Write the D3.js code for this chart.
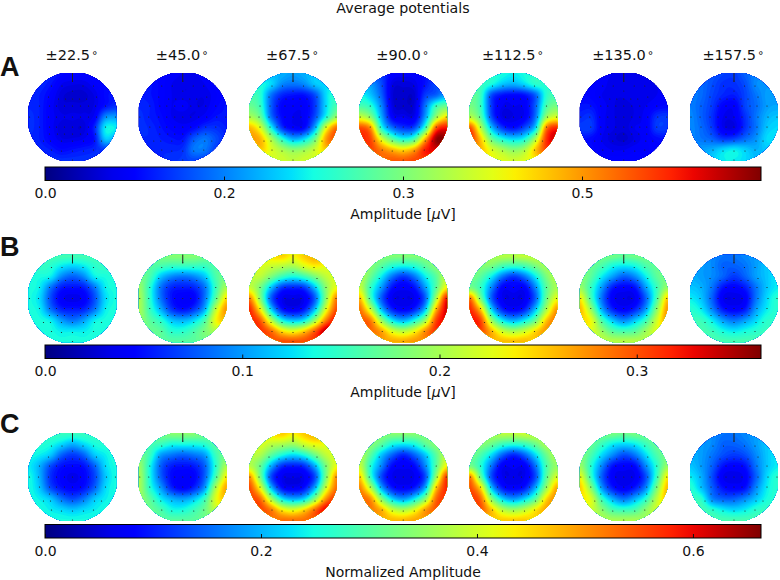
<!DOCTYPE html>
<html><head><meta charset="utf-8">
<script src="https://cdn.jsdelivr.net/npm/d3@7/dist/d3.min.js"></script>
<style>html,body{margin:0;padding:0;background:#fff}svg{display:block}text{font-family:"DejaVu Sans";fill:#111}</style>
</head><body><svg id="c" width="780" height="580"></svg>
<script>
const title = "Average potentials";
const angles = ["22.5","45.0","67.5","90.0","112.5","135.0","157.5"];
const panelLetters = ["A","B","C"];
const barMax = [0.6, 0.363, 0.663];
const tickValsA = [0, 0.15, 0.30, 0.45];
const tickValsB = [0, 0.1, 0.2, 0.3];
const tickValsC = [0, 0.2, 0.4, 0.6];
const tickTextA = ["0.0","0.2","0.3","0.5"];
const tickTextB = ["0.0","0.1","0.2","0.3"];
const tickTextC = ["0.0","0.2","0.4","0.6"];
const barLabels = ["Amplitude [","Amplitude [","Normalized Amplitude"];

// Scalp maps: 9x9 samples, top row first, left column first, in percent of the colour bar range.
const mapsA = [
[16,16,16,13,12,12,13,14,14, 16,16,14,10,9,9,11,13,14, 15,15,12,8,7,7,9,13,15, 16,15,11,8,8,8,9,14,17, 17,15,11,9,9,9,11,26,28, 17,15,11,8,8,8,16,36,36, 16,15,12,9,9,10,14,32,28, 16,16,15,13,14,15,16,18,20, 16,16,17,17,17,17,17,17,17],
[13,13,12,11,10,10,11,12,12, 14,14,12,10,9,9,10,12,12, 15,14,12,10,9,9,9,11,13, 16,15,12,10,11,9,9,12,14, 17,15,13,10,9,9,11,14,14, 17,16,14,12,11,13,17,17,15, 16,16,15,14,14,21,24,20,16, 15,15,16,16,17,24,24,18,15, 14,15,16,17,18,19,18,16,14],
[30,30,30,30,28,30,32,32,32, 38,38,34,26,24,26,32,34,36, 44,40,24,16,14,14,20,34,42, 48,42,22,12,11,11,18,34,44, 56,48,24,13,10,11,20,38,54, 72,62,38,18,12,13,30,62,80, 74,72,56,40,30,34,48,74,84, 66,70,62,56,52,54,60,70,74, 60,60,60,60,58,60,60,60,60],
[20,20,18,12,11,11,14,18,20, 32,28,20,9,8,9,14,20,24, 38,32,22,8,7,7,18,22,30, 44,40,26,9,7,8,24,42,48, 60,52,30,12,10,10,28,54,68, 84,76,40,24,18,20,42,82,90, 86,84,62,46,38,44,72,98,98, 82,84,78,72,68,74,88,92,92, 78,78,80,82,82,84,84,84,84],
[40,40,40,38,36,38,40,40,40, 44,42,38,32,30,34,40,40,42, 48,42,20,14,13,14,22,40,44, 50,42,18,10,10,11,22,44,50, 58,46,20,9,9,11,24,54,62, 84,58,32,18,14,20,34,78,88, 88,70,48,38,34,38,56,86,94, 80,72,62,56,52,56,70,84,86, 68,68,64,62,60,62,66,72,74],
[11,11,11,10,10,10,10,10,10, 12,12,11,9,9,9,9,10,11, 13,12,10,9,9,10,9,10,12, 14,14,11,9,8,9,10,12,13, 16,17,11,9,8,9,11,17,18, 18,18,11,9,8,10,11,18,18, 14,13,10,8,7,9,11,13,14, 13,13,11,10,10,11,11,12,12, 12,12,12,12,12,12,12,12,12],
[22,22,21,19,18,22,25,25,25, 24,23,20,17,17,20,26,27,27, 25,23,19,16,15,19,24,28,28, 25,22,18,12,11,19,23,28,29, 26,22,17,10,10,17,24,30,32, 26,23,18,10,9,17,24,32,34, 26,24,22,18,19,23,27,34,34, 26,28,30,34,36,33,30,32,30, 28,30,33,36,36,34,31,30,28]
];
const mapsB = [
[44,44,44,44,44,44,44,44,44, 42,42,40,36,34,36,40,42,42, 38,38,36,26,22,26,36,38,40, 38,36,24,15,14,15,24,36,38, 38,34,20,11,9,11,20,34,38, 38,36,24,16,15,16,24,36,38, 38,38,36,28,24,28,36,38,38, 40,38,38,36,36,36,38,38,40, 38,38,38,38,38,38,38,38,38],
[48,48,50,52,52,52,50,48,46, 48,46,44,42,42,42,42,46,48, 50,44,32,26,24,26,32,44,50, 54,40,24,16,15,16,24,42,56, 56,40,24,14,11,12,24,46,68, 56,42,30,18,14,18,30,58,76, 54,46,40,32,30,34,44,64,72, 50,48,46,40,40,44,50,56,60, 46,46,46,46,46,46,48,48,48],
[66,66,68,70,66,70,74,74,70, 62,62,60,58,56,62,66,64,62, 58,58,50,42,38,42,50,58,62, 60,50,32,18,16,18,32,52,64, 78,52,22,10,9,10,22,52,78, 88,66,34,15,11,15,32,62,84, 88,82,58,38,32,36,54,78,92, 84,86,80,68,64,70,82,96,96, 80,80,82,84,84,84,86,88,90],
[52,52,52,52,52,52,52,52,52, 56,52,46,40,38,40,46,52,56, 58,48,36,24,18,24,36,46,60, 60,42,28,14,11,14,28,46,66, 72,44,22,10,9,10,22,56,90, 80,60,32,16,12,16,32,72,94, 82,78,54,36,30,38,54,84,92, 78,80,74,62,58,64,76,86,86, 72,72,74,74,74,76,76,76,76],
[56,56,56,58,58,60,60,60,60, 54,52,50,44,42,44,50,56,58, 50,46,36,24,18,24,36,50,58, 50,42,26,12,12,12,26,46,56, 80,50,22,10,9,10,22,48,64, 88,70,34,16,12,16,32,56,76, 90,84,54,36,30,36,48,70,80, 86,84,72,60,56,60,68,76,78, 72,72,72,72,72,72,70,72,72],
[50,50,50,50,48,50,50,50,50, 50,48,44,38,36,38,44,48,50, 52,46,36,28,22,26,36,46,50, 54,42,28,15,12,14,28,42,54, 66,44,24,11,9,10,22,44,70, 72,54,30,16,12,16,28,52,76, 68,64,44,32,26,32,42,60,76, 62,62,54,46,44,46,54,62,66, 56,56,58,58,58,58,56,56,56],
[30,28,26,24,24,26,28,30,32, 30,28,26,22,22,24,28,32,34, 30,28,26,22,18,22,28,32,36, 32,30,24,14,12,15,24,32,36, 36,32,22,10,9,11,24,34,40, 40,36,26,15,12,15,28,36,40, 42,42,36,28,24,28,34,40,40, 44,44,42,38,36,38,40,42,42, 44,44,44,44,44,44,44,44,44]
];
const mapsC = [
[44,42,42,42,42,42,42,44,44, 42,40,38,34,30,34,38,40,42, 38,36,32,22,18,22,32,36,40, 36,30,20,14,13,14,22,34,38, 38,30,17,12,9,12,19,32,38, 38,32,20,14,12,14,22,34,38, 38,36,32,24,20,24,32,36,38, 40,38,36,34,32,34,36,38,40, 38,38,38,38,38,38,38,38,38],
[48,48,50,52,52,52,50,48,46, 48,44,42,38,38,38,40,46,48, 50,42,28,24,22,24,28,42,50, 54,38,22,15,14,15,22,40,56, 56,38,22,13,11,12,22,44,66, 56,40,28,16,12,16,28,56,74, 54,46,36,30,28,32,42,62,72, 50,48,44,38,38,42,48,58,62, 46,46,46,46,46,46,48,48,48],
[66,66,68,70,66,70,74,74,70, 62,62,58,56,54,60,64,64,62, 58,56,46,38,34,38,48,58,62, 58,48,30,17,15,17,30,50,64, 76,50,20,10,9,10,20,50,76, 84,64,32,14,11,14,30,60,80, 84,80,56,36,30,34,52,76,88, 82,84,78,66,62,68,80,92,94, 76,76,78,80,80,80,82,84,86],
[52,52,52,52,52,52,52,52,52, 56,52,46,38,36,38,46,52,56, 58,46,32,22,16,22,32,46,60, 60,40,26,13,11,13,26,46,66, 70,42,20,10,9,10,20,54,86, 78,58,30,15,12,15,30,70,88, 80,76,52,34,28,36,52,80,86, 76,78,72,60,56,62,74,82,82, 70,70,72,72,72,74,74,74,74],
[56,56,56,58,58,60,60,60,60, 54,52,48,42,40,42,48,56,58, 50,44,34,22,16,22,34,48,58, 50,40,24,11,11,11,24,44,54, 78,48,20,10,9,10,20,46,62, 84,68,32,15,12,15,30,54,74, 86,80,52,34,28,34,46,68,78, 84,82,70,58,54,58,66,74,76, 70,70,70,70,70,70,68,70,70],
[50,50,50,50,48,50,50,50,50, 50,48,42,36,34,36,42,48,50, 52,44,34,26,20,24,34,44,50, 54,40,26,14,12,13,26,40,54, 64,42,22,11,9,10,20,42,66, 70,52,28,15,11,15,26,50,72, 66,62,42,30,24,30,40,58,72, 60,60,52,44,42,44,52,60,64, 54,54,56,56,56,56,54,54,54],
[30,28,26,24,24,26,28,30,32, 30,28,26,22,22,24,28,32,34, 30,28,24,20,18,20,26,32,36, 32,28,22,14,12,14,24,32,36, 36,30,20,10,9,11,22,34,40, 40,32,22,14,12,14,26,36,40, 42,40,26,22,22,26,32,38,40, 44,44,40,36,34,36,40,42,42, 44,44,44,44,44,44,44,44,44]
];
// Sensor rows on a head of radius 44: [row offset, column offsets]
const sensorRows = [
 [-36,[0]],[-31,[-21,-10.5,10.5,21]],[-26,[0]],
 [-20,[-24,24]],[-18,[-14,-7,0,7,14]],
 [-11,[-33,-23,-16,-8,0,8,16,23,33]],
 [0,[-43,-34,-24,-16,-8,0,8,16,24,34,43]],
 [10,[-33,-23,-16,-8,0,8,16,23,33]],
 [17,[-23,-15,-8,0,8,15,23]],
 [24,[-29,-22,-11,0,11,22,29]],
 [33,[-21,21]],[34,[-11,0,11]],[43,[0]]
];

const jetR = d3.scaleLinear().domain([0,.35,.66,.89,1]).range([0,0,1,1,.5]).clamp(true);
const jetG = d3.scaleLinear().domain([0,.125,.375,.64,.91,1]).range([0,0,1,1,0,0]).clamp(true);
const jetB = d3.scaleLinear().domain([0,.11,.34,.65,1]).range([.5,1,1,0,0]).clamp(true);
const jet = t => d3.rgb(255*jetR(t),255*jetG(t),255*jetB(t)).formatHex();

const svg = d3.select("#c");
const defs = svg.append("defs");
const grad = defs.append("linearGradient").attr("id","jet");
d3.range(0,1.0001,1/32).forEach(t=>grad.append("stop").attr("offset",t).attr("stop-color",jet(t)));

const centerX = d3.scaleLinear().domain([0,6]).range([72.5,734]);
const rowCY = [117,298.5,477];
const barTop = [167,345,524.5];
const barH = 13.5;
const R = 45, BOX = 44;
const sensorX = d3.scaleLinear().domain([-44,44]).range([-44,44]);

function cr(p0,p1,p2,p3,t){return .5*(2*p1+(p2-p0)*t+(2*p0-5*p1+4*p2-p3)*t*t+(3*p1-p0-3*p2+p3)*t*t*t);}
function upsample(g,n){
  const at=(r,c)=>g[Math.max(0,Math.min(8,r))*9+Math.max(0,Math.min(8,c))];
  const out=new Float64Array(n*n);
  for(let j=0;j<n;j++){const fy=j/(n-1)*8,r=Math.min(7,Math.floor(fy)),ty=fy-r;
    for(let i=0;i<n;i++){const fx=i/(n-1)*8,c=Math.min(7,Math.floor(fx)),tx=fx-c;
      const col=[-1,0,1,2].map(d=>cr(at(r+d,c-1),at(r+d,c),at(r+d,c+1),at(r+d,c+2),tx));
      out[j*n+i]=cr(col[0],col[1],col[2],col[3],ty);}}
  return out;
}
const N=89, step=1.25;
const thresholds=d3.range(-5,101,step);
const contourGen=d3.contours().size([N,N]).thresholds(thresholds).smooth(true);
const path=d3.geoPath(d3.geoIdentity().scale(1));

const cp=defs.append("clipPath").attr("id","head");
cp.append("path").attr("d",()=>{
  const a=[];for(let i=0;i<=180;i++){const th=i/180*2*Math.PI;
    a.push([Math.max(-BOX,Math.min(BOX,R*Math.cos(th))),Math.max(-BOX,Math.min(BOX,R*Math.sin(th)))]);}
  return "M"+a.join("L")+"Z";});

[mapsA,mapsB,mapsC].forEach((maps,ri)=>{
  maps.forEach((g,mi)=>{
    const gr=svg.append("g").attr("transform",`translate(${centerX(mi)},${rowCY[ri]})`);
    const fill=gr.append("g").attr("clip-path","url(#head)").append("g").attr("transform",`translate(${-(N-1)/2-.5},${-(N-1)/2-.5})`);
    fill.selectAll("path").data(contourGen(upsample(g,N)).filter(d=>d.coordinates.length)).join("path")
      .attr("d",path).attr("fill",d=>jet(Math.max(0,(d.value+step/2)/100)));
    gr.append("line").attr("y1",-BOX).attr("y2",-BOX+9).attr("stroke","#222").attr("stroke-width",1);
    sensorRows.forEach(([dy,xs])=>{
      gr.selectAll(null).data(xs).join("circle").attr("cx",d=>sensorX(d)).attr("cy",sensorX(dy)).attr("r",.6).attr("fill","#222");
    });
  });
});

// column angle titles
angles.forEach((a,i)=>{
  const t=svg.append("text").attr("x",centerX(i)-1).attr("y",60).attr("text-anchor","middle").attr("font-size",14.5);
  t.append("tspan").text("±"+a);
  t.append("tspan").attr("dx",2).attr("dy",-1).attr("font-size",11).text("°");
});
svg.append("text").attr("x",403).attr("y",13.2).attr("text-anchor","middle").attr("font-size",14.2).text(title);

// panel letters
const letterY=[76,256,433];
panelLetters.forEach((l,i)=>svg.append("text").attr("x",0).attr("y",letterY[i])
  .style("font-family","'Liberation Sans'").attr("font-weight","bold").attr("font-size",27).text(l));

// colour bars
const tickVals=[tickValsA,tickValsB,tickValsC], tickText=[tickTextA,tickTextB,tickTextC];
barMax.forEach((m,i)=>{
  const x=d3.scaleLinear().domain([0,m]).range([45,761]);
  const y0=barTop[i];
  svg.append("rect").attr("x",45).attr("y",y0).attr("width",716).attr("height",barH).attr("fill","url(#jet)");
  const ax=d3.axisBottom(x).tickValues(tickVals[i]).tickSize(-4).tickPadding(8)
    .tickFormat((d,k)=>tickText[i][k]);
  const ag=svg.append("g").attr("transform",`translate(0,${y0+barH})`).call(ax);
  ag.select(".domain").remove();
  ag.selectAll("line").attr("stroke","#111");
  ag.selectAll("text").attr("font-size",14).attr("font-family","DejaVu Sans").attr("fill","#111");
  svg.append("rect").attr("x",45).attr("y",y0).attr("width",716).attr("height",barH).attr("fill","none").attr("stroke","#000").attr("stroke-width",1);
  const lab=svg.append("text").attr("x",403).attr("y",y0+barH+38.5).attr("text-anchor","middle").attr("font-size",14);
  lab.append("tspan").text(barLabels[i]);
  if(i<2){lab.append("tspan").attr("font-style","italic").text("μ");lab.append("tspan").text("V]");}
});
</script></body></html>
